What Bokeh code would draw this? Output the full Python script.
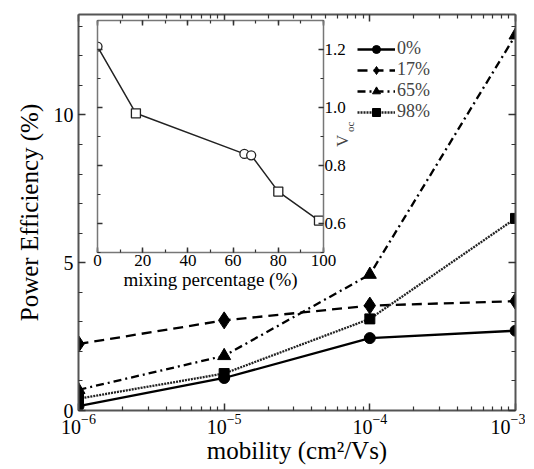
import math
from bokeh.plotting import figure
from bokeh.models import (LinearAxis, LogAxis, FixedTicker, SingleIntervalTicker, Range1d,
                          Legend, LegendItem, Label, CustomJSTickFormatter,
                          PrintfTickFormatter, ColumnDataSource)
from bokeh.embed import file_html
from bokeh.resources import INLINE

# ---------------- data ----------------
mobility = [1e-6, 1e-5, 1e-4, 1e-3]
eff_0 = [0.15, 1.1, 2.45, 2.7]
eff_17 = [2.25, 3.05, 3.55, 3.7]
eff_65 = [0.7, 1.85, 4.6, 12.7]
eff_98 = [0.4, 1.25, 3.1, 6.5]
series_labels = ["0%", "17%", "65%", "98%"]

mix_pct = [0, 17, 65, 68, 80, 98]
voc = [1.21, 0.98, 0.84, 0.835, 0.71, 0.61]
mix_marker = ["circle", "square", "circle", "circle", "square", "square"]

FONT = "Liberation Serif"
AX = "#555555"

def style_axis(ax, labels=True, size="20px"):
    ax.major_tick_in = 7
    ax.major_tick_out = 0
    ax.minor_tick_in = 4
    ax.minor_tick_out = 0
    ax.axis_line_color = AX
    ax.axis_line_width = 2
    ax.major_tick_line_color = "#333333"
    ax.major_tick_line_width = 1.5
    ax.minor_tick_line_color = "#333333"
    ax.minor_tick_line_width = 1.2
    ax.major_label_text_font = FONT
    ax.major_label_text_font_size = size
    ax.major_label_text_color = "black"
    ax.axis_label_text_font = FONT
    ax.axis_label_text_font_style = "normal"
    ax.axis_label_text_color = "black"
    if not labels:
        ax.formatter = CustomJSTickFormatter(code="return ''")
        ax.major_label_standoff = 0

# ---------------- main plot ----------------
p = figure(frame_width=437, frame_height=396, x_axis_type="log", x_axis_location=None,
           y_axis_location=None,
           x_range=Range1d(1e-6, 1e-3), y_range=Range1d(0, 13.4),
           min_border_left=78, min_border_right=10, min_border_top=14, min_border_bottom=40,
           output_backend="svg", toolbar_location=None)
p.grid.visible = False
p.outline_line_color = None
p.background_fill_color = "white"

xt_major = [1e-6, 1e-5, 1e-4, 1e-3]
xt_minor = [m * 10.0 ** e for e in range(-6, -3) for m in range(2, 10)]

xb = LogAxis(ticker=FixedTicker(ticks=xt_major, minor_ticks=xt_minor))
style_axis(xb)
xb.axis_label = "mobility (cm\u00b2/Vs)"
xb.axis_label_text_font_size = "25px"
xb.axis_label_standoff = 0
xb.major_label_standoff = 3
p.add_layout(xb, "below")

xa = LogAxis(ticker=FixedTicker(ticks=xt_major, minor_ticks=xt_minor))
style_axis(xa, labels=False)
p.add_layout(xa, "above")

yl = LinearAxis(ticker=SingleIntervalTicker(interval=5, num_minor_ticks=5))
style_axis(yl)
yl.axis_label = "Power Efficiency (%)"
yl.axis_label_text_font_size = "25px"
yl.axis_label_standoff = 8
yl.major_label_standoff = 5
p.add_layout(yl, "left")

yr = LinearAxis(ticker=SingleIntervalTicker(interval=5, num_minor_ticks=5))
style_axis(yr, labels=False)
p.add_layout(yr, "right")

styles = [
    dict(dash="solid", marker="circle", size=11, color="black"),
    dict(dash="10 6", marker="diamond", size=17, color="black"),
    dict(dash="8 4 2 4", marker="triangle", size=13, color="black"),
    dict(dash="2 1", marker="square", size=10, color="#222222"),
]
items = []
for ys, lab, st in zip([eff_0, eff_17, eff_65, eff_98], series_labels, styles):
    r1 = p.line(mobility, ys, line_color=st["color"], line_width=2.3, line_dash=st["dash"])
    r2 = p.scatter(mobility, ys, marker=st["marker"], size=st["size"], fill_color="black",
                   line_color="black")
    items.append(LegendItem(label=lab, renderers=[r1, r2]))

leg = Legend(items=items, location=(279, 288), padding=0, spacing=-3, margin=0,
             glyph_width=38, glyph_height=20, label_height=20, label_standoff=2,
             label_text_font=FONT, label_text_font_size="18px",
             border_line_color=None, background_fill_alpha=0)
p.add_layout(leg, "center")

# V_oc label of the inset (drawn on the main canvas, beside the inset's right axis)
p.add_layout(Label(x=6.5e-5, y=9.12, text="V", angle=math.pi / 2, text_align="center",
                   text_baseline="middle", text_font=FONT, text_font_size="17px"))
p.add_layout(Label(x=7.3e-5, y=9.6, text="oc", angle=math.pi / 2, text_align="center",
                   text_baseline="middle", text_font=FONT, text_font_size="11px"))

# ---------------- inset ----------------
ins = figure(frame_width=226, frame_height=232, x_range=Range1d(0, 100), y_range=Range1d(0.5, 1.3),
             x_axis_location=None, y_axis_location=None,
             min_border_left=9, min_border_top=6, min_border_right=42, min_border_bottom=44,
             output_backend="svg", toolbar_location=None)
ins.grid.visible = False
ins.background_fill_color = "white"
ins.border_fill_alpha = 0
ins.outline_line_color = None
ins.styles = {"position": "absolute", "left": "88px", "top": "14px"}

ixb = LinearAxis(ticker=SingleIntervalTicker(interval=20, num_minor_ticks=2))
style_axis(ixb, size="17px")
ixb.axis_line_color = "#777777"
ixb.axis_line_width = 1.5
ixb.major_tick_in = 5
ixb.minor_tick_in = 3
ixb.major_label_standoff = 2
ixb.axis_label = "mixing percentage (%)"
ixb.axis_label_text_font_size = "19px"
ixb.axis_label_standoff = 0
ins.add_layout(ixb, "below")

ixa = LinearAxis(ticker=SingleIntervalTicker(interval=20, num_minor_ticks=2))
style_axis(ixa, labels=False)
ixa.axis_line_color = "#777777"
ixa.axis_line_width = 1.5
ixa.major_tick_in = 5
ixa.minor_tick_in = 3
ins.add_layout(ixa, "above")

iyl = LinearAxis(ticker=SingleIntervalTicker(interval=0.2, num_minor_ticks=2))
style_axis(iyl, labels=False)
iyl.axis_line_color = "#777777"
iyl.axis_line_width = 1.5
iyl.major_tick_in = 5
iyl.minor_tick_in = 3
ins.add_layout(iyl, "left")

iyr = LinearAxis(ticker=SingleIntervalTicker(interval=0.2, num_minor_ticks=2),
                 formatter=PrintfTickFormatter(format="%.1f"))
style_axis(iyr, size="17px")
iyr.axis_line_color = "#777777"
iyr.axis_line_width = 1.5
iyr.major_tick_in = 5
iyr.minor_tick_in = 3
iyr.major_label_standoff = 1
ins.add_layout(iyr, "right")

src = ColumnDataSource(dict(x=mix_pct, y=voc, m=mix_marker))
ins.line("x", "y", source=src, line_color="#222222", line_width=1.5)
ins.scatter("x", "y", source=src, marker="m", size=9, fill_color="white", line_color="#222222",
            line_width=1.3)

open("out.html", "w").write(file_html([p, ins], INLINE))
